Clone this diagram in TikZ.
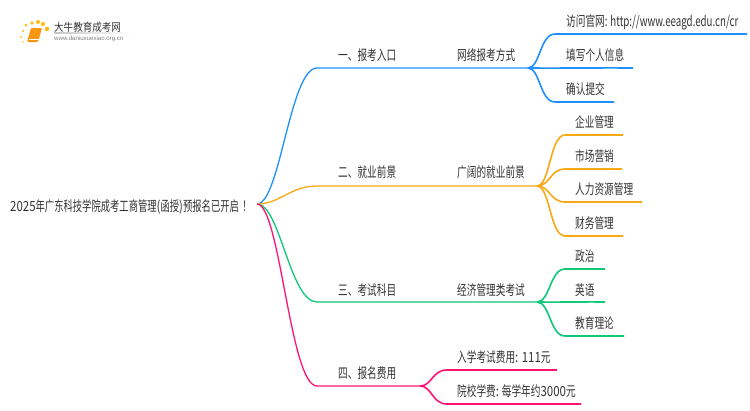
\documentclass[tikz,border=0pt]{standalone}
\usepackage{fontspec}
\setmainfont{Noto Sans CJK SC}[FakeStretch=0.69]
\newfontfamily\latinfont{Liberation Sans}
\newfontfamily\latn{Noto Sans CJK SC}[FakeStretch=0.82]
\newfontfamily\urlf{Noto Sans CJK SC}[FakeStretch=0.694]
\newfontfamily\rootf{Noto Sans CJK SC}[FakeStretch=0.665]
\newfontfamily\logof{Noto Sans CJK SC}[FakeStretch=0.86]
\newcommand{\la}[1]{{\latn #1}}
\usetikzlibrary{calc}
\definecolor{cblue}{HTML}{1E90FF}
\definecolor{corange}{HTML}{FAA814}
\definecolor{cgreen}{HTML}{0FC878}
\definecolor{cpink}{HTML}{FF1474}
\definecolor{txt}{HTML}{333333}
\tikzset{
  label/.style={inner sep=0pt,text=txt,font=\fontsize{14pt}{15pt}\selectfont,anchor=base west},
  trunk/.style={line width=1.3pt},
  leaf/.style={line width=1.6pt},
}
\begin{document}
\begin{tikzpicture}[x=1pt,y=-1pt]
\path[use as bounding box,fill=white] (0,0) rectangle (750,410);
% coordinates
\coordinate (root) at (257,204);
\coordinate (a1) at (317,68); \coordinate (a2) at (528,68);
\coordinate (b1) at (317,186); \coordinate (b2) at (537,186);
\coordinate (c1) at (317,302); \coordinate (c2) at (537,302);
\coordinate (d1) at (317,386); \coordinate (d2) at (420,386);
% logo
\foreach \x/\y/\r in {23/42/.8,21/37/1,23/31/1.2,26/25/1.5,32/23/1.8,38/22/2,43/24/2.1,47/29/2.3}
  \fill[corange!75!yellow] (\x,\y) circle (\r);
\fill[corange!90!red,rounded corners=1pt] (31,28) -- (42,28) -- (38,42) -- (27,42) -- cycle;
\draw[white,line width=.5pt] (29,39.5) -- (38.5,39.5);
\shade[left color=black!22,right color=white] (54,32.7) rectangle (133,33.3);
\node[inner sep=0pt,anchor=west,text=txt,font=\logof\fontsize{11.1pt}{12pt}\selectfont] (logot) at (54,27) {大牛教育成考网};
\node[inner sep=0pt,anchor=west,text=gray,font=\latinfont\fontsize{6.1pt}{7pt}\selectfont] (logou) at (54,39) {www.daniuxuexiao.org.cn};
% branches
\draw[cblue,trunk] (root) .. controls (280,204) and (290,68) .. (a1) .. controls (380,68.2) and (460,67.8) .. (a2);
\draw[corange,trunk] (root) .. controls (280,204) and (290,186) .. (b1) .. controls (380,186.2) and (460,185.8) .. (b2);
\draw[cgreen,trunk] (root) .. controls (280,204) and (290,302) .. (c1) .. controls (380,302.2) and (460,301.8) .. (c2);
\draw[cpink,trunk] (root) .. controls (280,204) and (290,386) .. (d1) .. controls (350,386.2) and (390,385.8) .. (d2);
% leaves
\coordinate (e11) at (747,34); \coordinate (e12) at (633,68); \coordinate (e13) at (614,102);
\draw[cblue,leaf] (a2) .. controls (540,68) and (540,34) .. (555,34) -- (e11);
\draw[cblue,leaf] (a2) .. controls (560,68.2) and (600,67.8) .. (e12);
\draw[cblue,leaf] (a2) .. controls (540,68) and (540,102) .. (555,102) -- (e13);
\foreach \y/\e in {135/623,169/622,202/642,236/623}{
  \coordinate (t) at (\e,\y);
  \draw[corange,leaf] (b2) .. controls (550,186) and (550,\y) .. (565,\y) -- (t);
}
\coordinate (e31) at (605,269); \coordinate (e32) at (605,302); \coordinate (e33) at (624,336);
\draw[cgreen,leaf] (c2) .. controls (550,302) and (550,269) .. (565,269) -- (e31);
\draw[cgreen,leaf] (c2) .. controls (560,302.2) and (585,301.8) .. (e32);
\draw[cgreen,leaf] (c2) .. controls (550,302) and (550,336) .. (565,336) -- (e33);
\foreach \y/\e in {370/557,404/581}{
  \coordinate (t) at (\e,\y);
  \draw[cpink,leaf] (d2) .. controls (432,386) and (432,\y) .. (447,\y) -- (t);
}
% labels
\node[label,font=\rootf\fontsize{14pt}{15pt}\selectfont] (root-t) at (10,211.5) {\la{2025}年广东科技学院成考工商管理\la{(}函授\la{)}预报名已开启\hspace{3.5pt}！};
\node[label] (n1) at (338,60.5) {一、报考入口};
\node[label] (n2) at (338,177.5) {二、就业前景};
\node[label] (n3) at (338,295) {三、考试科目};
\node[label] (n4) at (338,378.5) {四、报名费用};
\node[label] (m1) at (457,60.5) {网络报考方式};
\node[label] (m2) at (457,177.5) {广阔的就业前景};
\node[label] (m3) at (457,295) {经济管理类考试};
\node[label] (l11) at (566,26.5) {访问官网{\urlf : http://www.eeagd.edu.cn/cr}};
\node[label] (l12) at (566,60.5) {填写个人信息};
\node[label] (l13) at (566,94) {确认提交};
\node[label] (l21) at (575,127.5) {企业管理};
\node[label] (l22) at (575,161) {市场营销};
\node[label] (l23) at (575,194.5) {人力资源管理};
\node[label] (l24) at (575,228) {财务管理};
\node[label] (l31) at (575,261.5) {政治};
\node[label] (l32) at (575,295) {英语};
\node[label] (l33) at (575,328.5) {教育理论};
\node[label] (l41) at (457,362) {入学考试费用\la{: 111}元};
\node[label] (l42) at (457,396) {院校学费\la{:} 每学年约\la{3000}元};
\end{tikzpicture}
\end{document}
